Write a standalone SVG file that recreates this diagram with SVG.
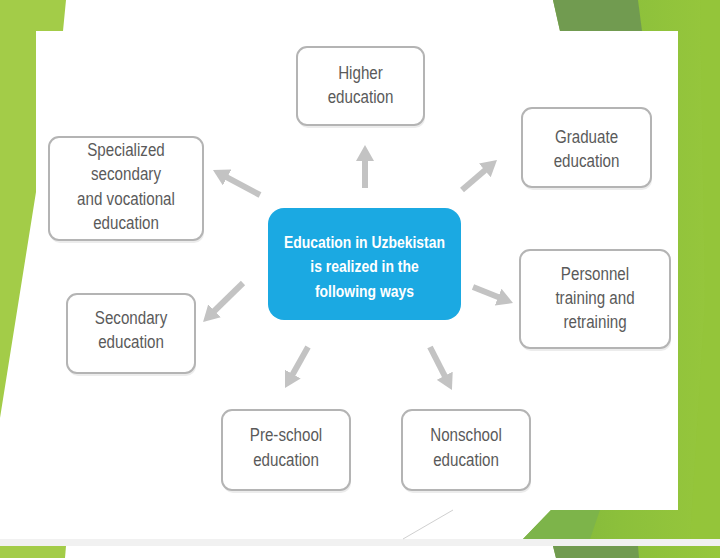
<svg xmlns="http://www.w3.org/2000/svg" width="720" height="558" viewBox="0 0 720 558">
<defs>
<style>
.box{fill:#ffffff;stroke:#b4b4b4;stroke-width:2}
.shadow{fill:#ececec}
.t{font-family:"Liberation Sans",Arial,sans-serif;font-size:18.5px;fill:#5a5a5a;text-anchor:middle}
.ct{font-family:"Liberation Sans",Arial,sans-serif;font-size:17px;font-weight:bold;fill:#ffffff;text-anchor:middle}
.arr{stroke:#c3c3c3;stroke-width:6;fill:none;marker-end:url(#ah)}
</style>
<marker id="ah" markerUnits="userSpaceOnUse" markerWidth="16" markerHeight="18" refX="6" refY="9" orient="auto">
<path d="M0,0 L16,9 L0,18 Z" fill="#c3c3c3"/>
</marker>
<linearGradient id="rg" x1="0" y1="0" x2="1" y2="0">
<stop offset="0" stop-color="#7fb33c"/>
<stop offset="0.5" stop-color="#8cc03b"/>
<stop offset="1" stop-color="#97c73c"/>
</linearGradient>
</defs>
<rect width="720" height="558" fill="#ffffff"/>
<g id="background">
<polygon points="0,0 66,0 63,31 36,31 36,192 0,418" fill="#a3cc48"/>
<polygon points="553,0 720,0 720,539 523,539 551,510 678,510 678,31 560,31" fill="url(#rg)"/>
<polygon points="553,0 638,0 642,31 560,31" fill="#719b50"/>
<polygon points="523,539 551,510 600,510 590,539" fill="#7db44a"/>
<polygon points="700,0 720,0 720,539 690,539 705,300" fill="#93c43a" opacity="0.8"/>
<rect x="0" y="539" width="720" height="7" fill="#f1f1f1"/>
<polygon points="0,546 66,546 65,558 0,558" fill="#a3cc48"/>
<polygon points="553,546 720,546 720,558 556,558" fill="url(#rg)"/>
<polygon points="553,546 638,546 639,558 556,558" fill="#719b50"/>
<rect x="36" y="31" width="642" height="479" fill="#ffffff"/>
<line x1="453" y1="510" x2="403" y2="539" stroke="#d0d0d0" stroke-width="1"/>
</g>
<g id="connectors">
<line class="arr" x1="365" y1="188" x2="365" y2="155"/>
<line class="arr" x1="260" y1="195" x2="221.8" y2="174.7"/>
<line class="arr" x1="462" y1="190" x2="489.4" y2="166.5"/>
<line class="arr" x1="473" y1="287" x2="503.7" y2="299.3"/>
<line class="arr" x1="243" y1="283" x2="210.2" y2="315"/>
<line class="arr" x1="308" y1="347" x2="289.9" y2="379.3"/>
<line class="arr" x1="430" y1="347" x2="447.4" y2="381.1"/>
</g>
<g id="center">
<rect x="268" y="208" width="193" height="112" rx="16" fill="#1ba9e2"/>
<text class="ct" transform="translate(364.5 0) scale(0.82 1)" x="0" y="248">Education in Uzbekistan<tspan x="0" y="272">is realized in the</tspan><tspan x="0" y="297">following ways</tspan></text>
</g>
<g id="higher">
<rect class="shadow" x="298" y="49" width="127" height="79" rx="10"/>
<rect class="box" x="297" y="47" width="127" height="78" rx="10"/>
<text class="t" transform="translate(360.5 0) scale(0.82 1)" x="0" y="79">Higher<tspan x="0" y="103">education</tspan></text>
</g>
<g id="specialized">
<rect class="shadow" x="50" y="139" width="154" height="104" rx="10"/>
<rect class="box" x="49" y="137" width="154" height="103" rx="10"/>
<text class="t" transform="translate(126 0) scale(0.82 1)" x="0" y="156">Specialized<tspan x="0" y="180.5">secondary</tspan><tspan x="0" y="205">and vocational</tspan><tspan x="0" y="229.5">education</tspan></text>
</g>
<g id="graduate">
<rect class="shadow" x="523" y="110" width="129" height="80" rx="10"/>
<rect class="box" x="522" y="108" width="129" height="79" rx="10"/>
<text class="t" transform="translate(586.5 0) scale(0.82 1)" x="0" y="143">Graduate<tspan x="0" y="167">education</tspan></text>
</g>
<g id="secondary">
<rect class="shadow" x="68" y="296" width="128" height="80" rx="10"/>
<rect class="box" x="67" y="294" width="128" height="79" rx="10"/>
<text class="t" transform="translate(131 0) scale(0.82 1)" x="0" y="324">Secondary<tspan x="0" y="348">education</tspan></text>
</g>
<g id="personnel">
<rect class="shadow" x="521" y="252" width="150" height="99" rx="10"/>
<rect class="box" x="520" y="250" width="150" height="98" rx="10"/>
<text class="t" transform="translate(595 0) scale(0.82 1)" x="0" y="280">Personnel<tspan x="0" y="304">training and</tspan><tspan x="0" y="328">retraining</tspan></text>
</g>
<g id="preschool">
<rect class="shadow" x="223" y="412" width="128" height="81" rx="10"/>
<rect class="box" x="222" y="410" width="128" height="80" rx="10"/>
<text class="t" transform="translate(286 0) scale(0.82 1)" x="0" y="441">Pre-school<tspan x="0" y="466">education</tspan></text>
</g>
<g id="nonschool">
<rect class="shadow" x="403" y="412" width="128" height="81" rx="10"/>
<rect class="box" x="402" y="410" width="128" height="80" rx="10"/>
<text class="t" transform="translate(466 0) scale(0.82 1)" x="0" y="441">Nonschool<tspan x="0" y="466">education</tspan></text>
</g>
</svg>
